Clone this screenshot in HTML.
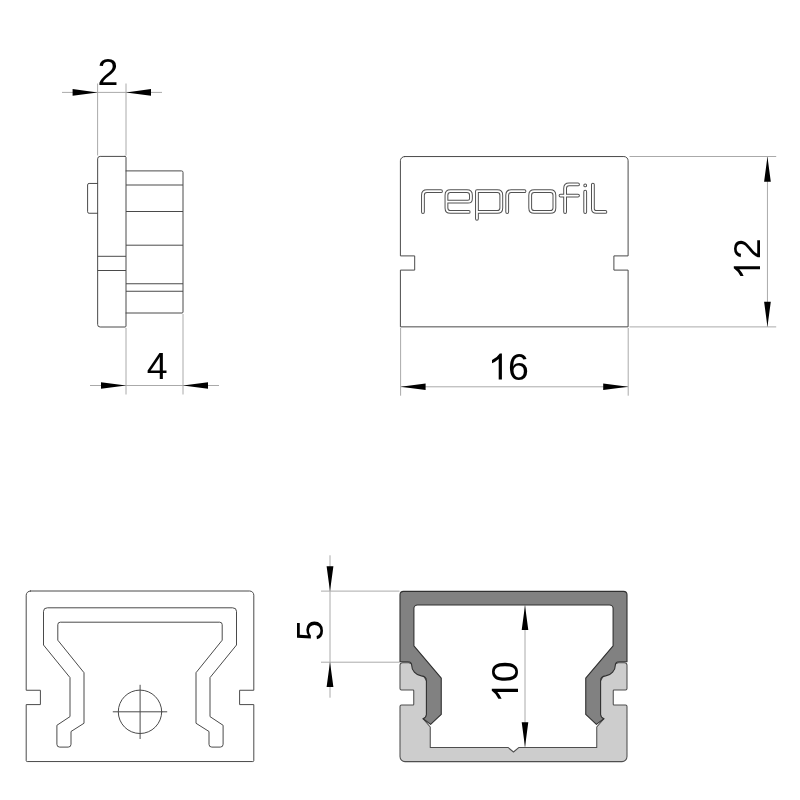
<!DOCTYPE html>
<html><head><meta charset="utf-8">
<style>
html,body{margin:0;padding:0;background:#fff;}
svg{display:block;will-change:transform;filter:grayscale(1);}
text{font-family:"Liberation Sans",sans-serif;font-size:37.5px;fill:#000;}
.o{fill:none;stroke:#4a4a4a;stroke-width:1;stroke-linejoin:round;stroke-linecap:round;}
.d{fill:none;stroke:#aaa;stroke-width:1;}
.a{fill:#000;stroke:none;}
</style></head><body>
<svg width="800" height="800" viewBox="0 0 800 800">
<rect width="800" height="800" fill="#fff"/>

<!-- top-left: side view -->
<g id="tl">
<path class="d" d="M97.6 83.5V155.5 M126 83.5V155.5 M62 92.4H162 M126 328V394.5 M183 314V394.5 M90 385.5H219"/>
<path class="a" d="M97.6 92.4L72.6 89.1V95.7Z M126 92.4L151 89.1V95.7Z M126 385.5L101 382.2V388.8Z M183 385.5L208 382.2V388.8Z"/>
<path class="o" d="M125 156.4H100.15A2.5 2.5 0 0 0 97.65 158.9V324.5A2.5 2.5 0 0 0 100.15 327H125A1 1 0 0 0 126 326V157.4A1 1 0 0 0 125 156.4Z"/>
<path class="o" d="M126 170.9H181.5A1.5 1.5 0 0 1 183 172.4V312A1 1 0 0 1 182 313H126"/>
<path class="o" stroke-linecap="butt" style="stroke-linecap:butt" d="M126 185H183 M126 211.5H183 M126 245.2H183 M126 283.75H183 M126 291.25H183 M97.65 256.3H126 M97.65 270.5H126"/>
<path class="o" d="M97.65 183.45H89.1A1.5 1.5 0 0 0 87.6 184.95V211.75A1.5 1.5 0 0 0 89.1 213.25H97.65"/>
<text x="107.95" y="85.2" text-anchor="middle">2</text>
<text x="157.2" y="379.1" text-anchor="middle">4</text>
</g>

<!-- top-right: front view -->
<g id="tr">
<path class="d" d="M400.6 328V395.7 M628.2 328V395.7 M400.6 386.8H628.2 M629.5 156.5H776.2 M629.5 326.9H776.2 M767.45 156.5V326.9"/>
<path class="a" d="M400.6 386.8L425.6 383.5V390.1Z M628.2 386.8L603.2 383.5V390.1Z M767.45 156.7L764.1 181.7H770.8Z M767.45 326.7L764.1 301.7H770.8Z"/>
<path class="o" d="M404.6 156.55H623.9A4.2 4.2 0 0 1 628.1 160.75V255.9H613.9V270.1H628.1V326.85H400.4V270.1H414.7V255.9H400.4V160.75A4.2 4.2 0 0 1 404.6 156.55Z"/>
<g id="logo" fill="none" stroke-linecap="round" stroke-linejoin="round">
<path d="M422.95 212.1V195.2Q422.95 191.2 426.95 191.2H441 M468.7 211.9H450.45Q446.45 211.9 446.45 207.9V195.2Q446.45 191.2 450.45 191.2H466.95Q470.95 191.2 470.95 195.2V198.65Q470.95 201.65 467.95 201.65H446.45 M476.95 218.8V191.2H497.3Q501.3 191.2 501.3 195.2V207.9Q501.3 211.9 497.3 211.9H476.95 M507.2 212.1V195.2Q507.2 191.2 511.2 191.2H524.5 M534.2 191.2H550.4Q554.4 191.2 554.4 195.2V207.9Q554.4 211.9 550.4 211.9H534.2Q530.2 211.9 530.2 207.9V195.2Q530.2 191.2 534.2 191.2Z M565.1 212.1V188.4Q565.1 184.4 569.1 184.4H578 M560.5 195.6H578 M585.2 191.75V212.1 M585.2 185.4V185.41 M592.9 184.6V208.45Q592.9 211.95 596.4 211.95H605.4" stroke="#525252" stroke-width="3.8"/>
<path d="M422.95 212.1V195.2Q422.95 191.2 426.95 191.2H441 M468.7 211.9H450.45Q446.45 211.9 446.45 207.9V195.2Q446.45 191.2 450.45 191.2H466.95Q470.95 191.2 470.95 195.2V198.65Q470.95 201.65 467.95 201.65H446.45 M476.95 218.8V191.2H497.3Q501.3 191.2 501.3 195.2V207.9Q501.3 211.9 497.3 211.9H476.95 M507.2 212.1V195.2Q507.2 191.2 511.2 191.2H524.5 M534.2 191.2H550.4Q554.4 191.2 554.4 195.2V207.9Q554.4 211.9 550.4 211.9H534.2Q530.2 211.9 530.2 207.9V195.2Q530.2 191.2 534.2 191.2Z M565.1 212.1V188.4Q565.1 184.4 569.1 184.4H578 M560.5 195.6H578 M585.2 191.75V212.1 M585.2 185.4V185.41 M592.9 184.6V208.45Q592.9 211.95 596.4 211.95H605.4" stroke="#fff" stroke-width="1.8"/>
</g>
<path class="a" d="M501.9 353.40V379.6H498.70V358.90Q495.40 361.80 492.00 363.20V360.00Q496.90 357.70 499.80 353.40Z"/><text x="508" y="379.6">6</text>
<g transform="translate(760 258) rotate(-90)"><path class="a" d="M-8.15 -26.20V0H-11.35V-20.70Q-14.65 -17.80 -18.05 -16.40V-19.60Q-13.15 -21.90 -10.25 -26.20Z"/><text x="9.1" y="0" text-anchor="middle">2</text></g>
</g>

<!-- bottom-left: end cap back view -->
<g id="bl">
<path class="o" d="M30.4 591H249.6A4.2 4.2 0 0 1 253.8 595.2V690.25H239.6V704.6H253.8V760.55A1 1 0 0 1 252.8 761.55H27.2A1 1 0 0 1 26.2 760.55V704.6H40.4V690.25H26.2V595.2A4.2 4.2 0 0 1 30.4 591Z"/>
<path class="o" d="M47 607.8A3.5 3.5 0 0 0 43.5 611.3L43.5 645L70 677.6L70 716.6L56.9 725.3L56.9 744.3A2.8 2.8 0 0 0 59.7 747.1L68.2 747.1A2.8 2.8 0 0 0 71 744.3L71 731.5L84 723.25L84 672.7L57.8 640.2L57.8 624.7A2.5 2.5 0 0 1 60.3 622.2L219.7 622.2A2.5 2.5 0 0 1 222.2 624.7L222.2 640.2L196 672.7L196 723.25L209 731.5L209 744.3A2.8 2.8 0 0 0 211.8 747.1L220.3 747.1A2.8 2.8 0 0 0 223.1 744.3L223.1 725.3L210 716.6L210 677.6L236.5 645L236.5 611.3A3.5 3.5 0 0 0 233 607.8Z"/>
<circle class="o" cx="140" cy="711.8" r="21.7"/>
<path class="o" d="M113.2 711.8H166.8 M140.1 685.2V738.6"/>
</g>

<!-- bottom-right: profile section -->
<g id="br">
<path class="d" d="M321 591.1H399.5 M321 662.2H399.5 M330 555.3V697.7 M525 605.3V746.8"/>
<path class="a" d="M330 591.3L326.6 566.3H333.4Z M330 662L326.6 687H333.4Z M525 605.4L521.7 630H528.3Z M525 746.9L521.7 722.3H528.3Z"/>
<path d="M513.5 752L508 747.45L430.25 747.45L430.25 727L423.1 718.75L432 714L432 690L420 670L413 664.5L409 662.8L402.5 662.8A2.5 2.5 0 0 0 400 665.3L400 688.5Q400 690 401.5 690L413 690Q413.75 690 413.75 690.75L413.75 704.25Q413.75 705 413 705L401.5 705Q400 705 400 706.5L400 756.6A5 5 0 0 0 405 761.6L622 761.6A5 5 0 0 0 627 756.6L627 706.5Q627 705 625.5 705L614 705Q613.25 705 613.25 704.25L613.25 690.75Q613.25 690 614 690L625.5 690Q627 690 627 688.5L627 665.3A2.5 2.5 0 0 0 624.5 662.8L618 662.8L614 664.5L607 670L595 690L595 714L603.9 718.75L596.75 727L596.75 747.45L519 747.45L513.5 752Z" fill="#cdcdcd" stroke="#4e4e4e" stroke-width="1.05" stroke-linejoin="round"/>
<path d="M403.5 591.4A3.5 3.5 0 0 0 400 594.8L400 661.7L407.5 661.7Q411.3 661.7 411.6 664.6A11.3 11.3 0 0 0 421.4 675.9Q426.4 676.3 426.4 681L426.4 714.5Q426.2 717.5 423.1 718.75L430.6 724.4L441.25 714.4L441.25 678.1L413.9 645.8L413.9 608.6A3.6 3.6 0 0 1 417.5 605L609.5 605A3.6 3.6 0 0 1 613.1 608.6L613.1 645.8L585.75 678.1L585.75 714.4L596.4 724.4L603.9 718.75Q600.8 717.5 600.6 714.5L600.6 681Q600.6 676.3 605.6 675.9A11.3 11.3 0 0 0 615.4 664.6Q615.7 661.7 619.5 661.7L627 661.7L627 594.8A3.5 3.5 0 0 0 623.5 591.4Z" fill="#818181" stroke="#303030" stroke-width="1.1" stroke-linejoin="round" fill-rule="evenodd"/>
<text transform="translate(323.3 630.3) rotate(-90)" text-anchor="middle">5</text>
<g transform="translate(518 680) rotate(-90)"><path class="a" d="M-8.75 -26.20V0H-11.95V-20.70Q-15.25 -17.80 -18.65 -16.40V-19.60Q-13.75 -21.90 -10.85 -26.20Z"/><text x="8.25" y="0" text-anchor="middle">0</text></g>
</g>
</svg>
</body></html>
